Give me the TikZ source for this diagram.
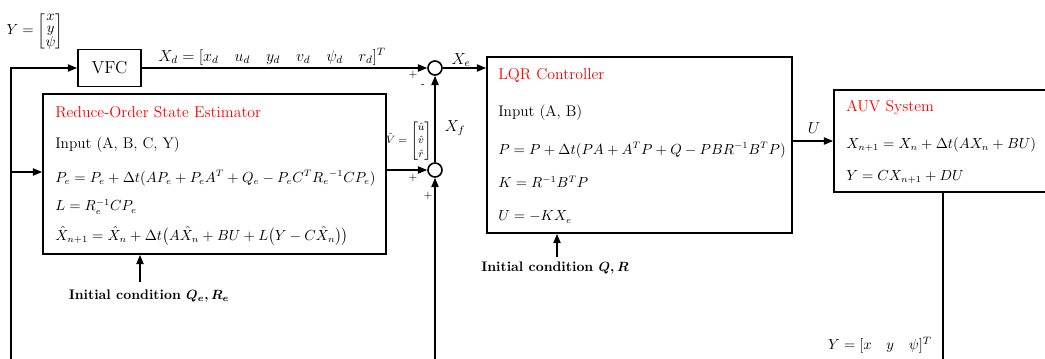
\documentclass[tikz,border=0pt]{standalone}
\usepackage{amsmath}
\usetikzlibrary{arrows.meta}
\begin{document}
\begin{tikzpicture}[x=0.75pt,y=-0.75pt,
  blk/.style={draw, line width=1.3pt, inner sep=0pt},
  arr/.style={line width=1pt, -{Triangle[length=7pt,width=5.5pt]}},
  ln/.style={line width=1pt},
  sumc/.style={circle, draw, line width=1.2pt, minimum size=10.5pt, inner sep=0pt},
  txt/.style={anchor=west, inner sep=0pt, font=\fontsize{11.5}{14}\selectfont},
  eqn/.style={anchor=west, inner sep=0pt, font=\fontsize{10.5}{13}\selectfont},
  ttl/.style={txt, font=\fontsize{11.8}{14}\selectfont, text=red},
  lbl/.style={inner sep=0pt, font=\fontsize{12}{14}\selectfont},
  sgn/.style={inner sep=0pt, font=\fontsize{8}{9}\selectfont},
  ini/.style={inner sep=0pt, font=\bfseries\fontsize{10.4}{13}\selectfont}]
\useasboundingbox (0,0) rectangle (1045,358);
\clip (0,0) rectangle (1045,358);

% boxes
\node[blk, minimum width=47.25pt, minimum height=27.75pt, font=\fontsize{13}{15}\selectfont] (vfc) at (109.5,68) {VFC};
\node[blk, minimum width=257.25pt, minimum height=120pt] (est) at (214.5,174) {};
\node[blk, minimum width=228.75pt, minimum height=132pt] (lqr) at (639.5,145) {};
\node[blk, minimum width=199.5pt, minimum height=76.5pt] (auv) at (967,141) {};

% sum junctions
\node[sumc] (sum1) at (435,68) {};
\node[sumc] (sum2) at (435,170) {};

% estimator text
\node[ttl] (estT) at (55,112) {Reduce-Order State Estimator};
\node[txt] (estI) at (55,145) {Input (A, B, C, Y)};
\node[eqn] (estP) at (55,178) {$P_e=P_e+\Delta t(AP_e+P_eA^T+Q_e-P_eC^TR_e{}^{-1}CP_e)$};
\node[eqn] (estL) at (55,207) {$L=R_e^{-1}CP_e$};
\node[eqn] (estX) at (55,236) {$\hat{X}_{n+1}=\hat{X}_n+\Delta t\bigl(A\hat{X}_n+BU+L\bigl(Y-C\hat{X}_n\bigr)\bigr)$};

% LQR text
\node[ttl] (lqrT) at (498,75) {LQR Controller};
\node[txt] (lqrI) at (498,113) {Input (A, B)};
\node[eqn] (lqrP) at (498,150) {$P=P+\Delta t(PA+A^TP+Q-PBR^{-1}B^TP)$};
\node[eqn] (lqrK) at (498,182) {$K=R^{-1}B^TP$};
\node[eqn] (lqrU) at (498,217) {$U=-KX_e$};

% AUV text
\node[ttl] (auvT) at (846,107) {AUV System};
\node[eqn] (auvX) at (846,145) {$X_{n+1}=X_n+\Delta t(AX_n+BU)$};
\node[eqn] (auvY) at (846,177) {$Y=CX_{n+1}+DU$};

% free ends
\coordinate (botl) at (11,362);
\coordinate (fbj) at (11,172);
\coordinate (bots) at (435,362);
\coordinate (bota) at (943,362);
\coordinate (ie) at (140,282);
\coordinate (il) at (557,257);

% connectors
\draw[arr] (botl) |- (vfc.west);
\draw[arr] (fbj) -- (est.west |- fbj);
\draw[arr] (vfc.east) -- (sum1.west);
\draw[arr] (sum1.east) -- (lqr.west |- sum1);
\draw[arr] (est.east |- sum2) -- (sum2.west);
\draw[arr] (sum2.north) -- (sum1.south);
\draw[arr] (bots) -- (sum2.south);
\draw[arr] (lqr.east |- auv.west) -- (auv.west);
\draw[ln] (auv.south -| bota) -- (bota);
\draw[arr] (ie) -- (ie |- est.south);
\draw[arr] (il) -- (il |- lqr.south);

% labels
\node[inner sep=0pt, font=\fontsize{11}{13}\selectfont] (ylab) at (35,31) {$Y=\renewcommand{\arraystretch}{0.72}\begin{bmatrix}x\\y\\\psi\end{bmatrix}$};
\node[lbl] (xdlab) at (272,57) {$X_d=[x_d\quad u_d\quad y_d\quad v_d\quad \psi_d\quad r_d]^T$};
\node[lbl] (xelab) at (461,60) {$X_e$};
\node[lbl] (xflab) at (455,128) {$X_f$};
\node[inner sep=0pt, font=\fontsize{8.5}{12}\selectfont] (vlab) at (409,141) {$\hat{V}=\renewcommand{\arraystretch}{0.85}\begin{bmatrix}\hat{u}\\\hat{v}\\\hat{r}\end{bmatrix}$};
\node[lbl] (ulab) at (814,128) {$U$};
\node[inner sep=0pt, font=\fontsize{11}{13}\selectfont] (yolab) at (880,345) {$Y=[x\quad y\quad \psi]^T$};
\node[sgn] (p1) at (413,75) {+};
\node[sgn] (m1) at (423,86) {-};
\node[sgn] (p2) at (413,178) {+};
\node[sgn] (p3) at (428,196) {+};
\node[ini] (ielab) at (149,296) {Initial condition $\boldsymbol{Q_e, R_e}$};
\node[ini] (illab) at (555,268) {Initial condition $\boldsymbol{Q, R}$};
\end{tikzpicture}
\end{document}
